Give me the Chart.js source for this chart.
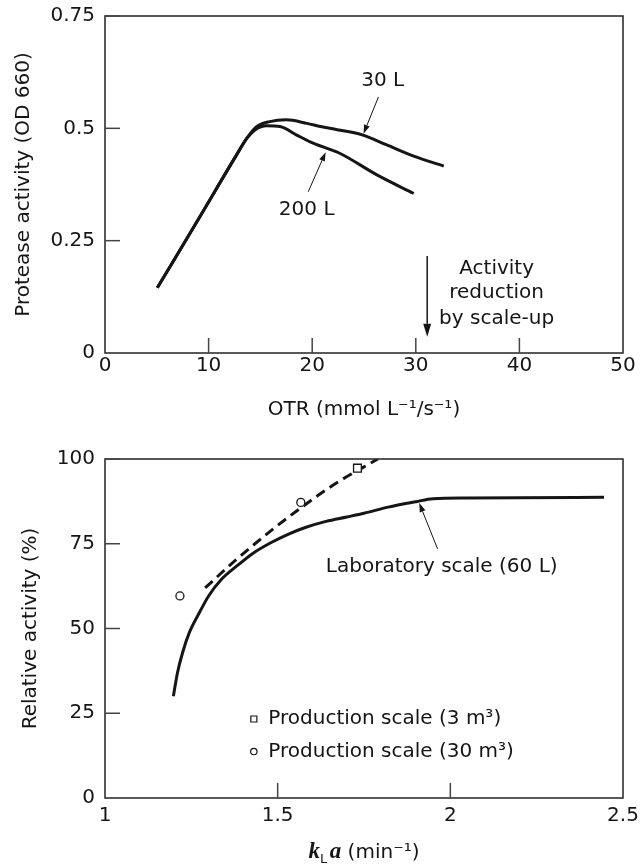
<!DOCTYPE html>
<html>
<head>
<meta charset="utf-8">
<script src="https://cdn.jsdelivr.net/npm/chart.js@4.4.0/dist/chart.umd.min.js"></script>
<style>
html,body{margin:0;padding:0;background:#fff;}
.wrap{position:relative;width:640px;height:432px;}
canvas{display:block;}
</style>
</head>
<body>
<div class="wrap"><canvas id="c1"></canvas></div>
<div class="wrap"><canvas id="c2"></canvas></div>
<script>
// ---------- Top panel data: protease activity vs OTR ----------
const otr30L = [5.05, 9.2, 12.6, 13.7, 14.6, 15.9, 17.5, 19.5, 20.8, 22.4, 24.9, 27.2, 29.8, 32.7];
const act30L = [0.145, 0.305, 0.437, 0.478, 0.503, 0.515, 0.519, 0.511, 0.504, 0.497, 0.485, 0.463, 0.438, 0.416];
const otr200L = [5.05, 9.2, 12.6, 13.7, 14.5, 15.6, 16.9, 18.5, 19.8, 21.7, 22.7, 26.2, 29.8];
const act200L = [0.145, 0.305, 0.437, 0.478, 0.497, 0.506, 0.504, 0.485, 0.470, 0.453, 0.444, 0.397, 0.355];
const otrTicks = [0, 10, 20, 30, 40, 50];
const otrTickLabels = ['0', '10', '20', '30', '40', '50'];
const odTicks = [0, 0.25, 0.5, 0.75];
const odTickLabels = ['0', '0.25', '0.5', '0.75'];

// ---------- Bottom panel data: relative activity vs kLa ----------
const klaLab = [1.198, 1.21, 1.225, 1.245, 1.275, 1.30, 1.34, 1.38, 1.43, 1.48, 1.53, 1.58, 1.64, 1.70, 1.75, 1.82, 1.90, 1.95, 2.05, 2.20, 2.445];
const relLab = [30, 37, 43, 49, 55, 59.6, 64.8, 68.3, 72.3, 75.3, 77.8, 79.8, 81.6, 82.9, 84.0, 85.8, 87.4, 88.3, 88.5, 88.6, 88.7];
const klaProd = [1.29, 1.38, 1.48, 1.57, 1.67, 1.79];
const relProd = [62, 70.3, 78.8, 85.8, 92.9, 100];
const kla3m3 = [1.731];
const rel3m3 = [97.3];
const kla30m3 = [1.217, 1.567];
const rel30m3 = [59.6, 87.2];
const klaTicks = [1, 1.5, 2, 2.5];
const klaTickLabels = ['1', '1.5', '2', '2.5'];
const relTicks = [0, 25, 50, 75, 100];
const relTickLabels = ['0', '25', '50', '75', '100'];

// ---------- styling ----------
const INK = '#151515';
const FONT = '"DejaVu Sans", "Liberation Sans", sans-serif';
const FS = 20;

function pts(xs, ys) { return xs.map((v, i) => ({x: v, y: ys[i]})); }
function tickCb(vals, labels) {
  return function (v) { const i = vals.findIndex(t => Math.abs(t - v) < 1e-9); return i >= 0 ? labels[i] : ''; };
}
function setTicks(vals) { return function (s) { s.ticks = vals.map(v => ({value: v})); }; }
function fixW(w) { return function (s) { s.width = w; s.paddingTop = 0; s.paddingBottom = 0; }; }
function fixH(h) { return function (s) { s.height = h; s.paddingLeft = 0; s.paddingRight = 0; }; }

function arrow(ctx, x1, y1, x2, y2, lw, hl, hw) {
  ctx.save();
  ctx.strokeStyle = INK; ctx.fillStyle = INK; ctx.lineWidth = lw;
  const a = Math.atan2(y2 - y1, x2 - x1);
  const bx = x2 - hl * Math.cos(a), by = y2 - hl * Math.sin(a);
  ctx.beginPath(); ctx.moveTo(x1, y1); ctx.lineTo(bx, by); ctx.stroke();
  ctx.beginPath();
  ctx.moveTo(x2, y2);
  ctx.lineTo(bx + hw * Math.sin(a), by - hw * Math.cos(a));
  ctx.lineTo(bx - hw * Math.sin(a), by + hw * Math.cos(a));
  ctx.closePath(); ctx.fill();
  ctx.restore();
}

function frameAndTicks(chart) {
  const {ctx, chartArea: a, scales: {x, y}} = chart;
  ctx.save();
  ctx.strokeStyle = '#222'; ctx.lineWidth = 1.5;
  ctx.strokeRect(a.left, a.top, a.right - a.left, a.bottom - a.top);
  ctx.strokeStyle = '#444'; ctx.lineWidth = 1.5;
  x.ticks.forEach(t => {
    const p = x.getPixelForValue(t.value);
    if (p > a.left + 2 && p < a.right - 2) { ctx.beginPath(); ctx.moveTo(p, a.bottom); ctx.lineTo(p, a.bottom - 15); ctx.stroke(); }
  });
  y.ticks.forEach(t => {
    const p = y.getPixelForValue(t.value);
    if (p < a.bottom - 2) { ctx.beginPath(); ctx.moveTo(a.left, p); ctx.lineTo(a.left + 15, p); ctx.stroke(); }
  });
  ctx.restore();
}

function text(ctx, s, x, y, align, font) {
  ctx.save();
  ctx.fillStyle = INK; ctx.font = font || (FS + 'px ' + FONT);
  ctx.textAlign = align || 'center'; ctx.textBaseline = 'middle';
  ctx.fillText(s, x, y);
  ctx.restore();
}

// ---------- annotations (in data units) ----------
const topNotes = [
  {t: '30 L', x: 26.8, y: 0.605},
  {t: '200 L', x: 19.47, y: 0.318},
  {t: 'Activity', x: 37.8, y: 0.1885},
  {t: 'reduction', x: 37.8, y: 0.133},
  {t: 'by scale-up', x: 37.8, y: 0.0757}
];
const topArrows = [
  {x1: 26.4, y1: 0.570, x2: 24.95, y2: 0.488, lw: 1, hl: 9, hw: 3},
  {x1: 19.62, y1: 0.359, x2: 21.3, y2: 0.447, lw: 1, hl: 9, hw: 3},
  {x1: 31.1, y1: 0.216, x2: 31.1, y2: 0.036, lw: 1.5, hl: 13, hw: 4}
];

const topPlugin = {
  id: 'topDeco',
  afterDatasetsDraw(chart) {
    const {ctx, scales: {x, y}} = chart;
    frameAndTicks(chart);
    topNotes.forEach(n => text(ctx, n.t, x.getPixelForValue(n.x), y.getPixelForValue(n.y)));
    topArrows.forEach(r => arrow(ctx, x.getPixelForValue(r.x1), y.getPixelForValue(r.y1), x.getPixelForValue(r.x2), y.getPixelForValue(r.y2), r.lw, r.hl, r.hw));
  }
};

const botPlugin = {
  id: 'botDeco',
  afterDatasetsDraw(chart) {
    const {ctx, chartArea: a, scales: {x, y}} = chart;
    frameAndTicks(chart);
    text(ctx, 'Laboratory scale (60 L)', x.getPixelForValue(1.975), y.getPixelForValue(68.2));
    arrow(ctx, x.getPixelForValue(1.963), y.getPixelForValue(73.5), x.getPixelForValue(1.91), y.getPixelForValue(87.0), 1, 9, 3);
    // legend
    const lx = x.getPixelForValue(1.431);
    const tx = x.getPixelForValue(1.473);
    const ly1 = y.getPixelForValue(23.3), ly2 = y.getPixelForValue(13.7);
    ctx.save();
    ctx.strokeStyle = INK; ctx.lineWidth = 1.2; ctx.fillStyle = '#fff';
    ctx.beginPath(); ctx.rect(lx - 3, ly1 - 3, 6, 6); ctx.fill(); ctx.stroke();
    ctx.beginPath(); ctx.arc(lx, ly2, 3.2, 0, Math.PI * 2); ctx.fill(); ctx.stroke();
    ctx.restore();
    text(ctx, 'Production scale (3 m³)', tx, ly1, 'left');
    text(ctx, 'Production scale (30 m³)', tx, ly2, 'left');
    // x-axis title: kLa (min^-1)
    const parts = [
      {t: 'k', f: 'italic bold 23px "Liberation Serif", "DejaVu Serif", serif', dy: 0},
      {t: 'L', f: '13px ' + FONT, dy: 5},
      {t: ' ', f: '8px ' + FONT, dy: 0},
      {t: 'a', f: 'italic bold 23px "Liberation Serif", "DejaVu Serif", serif', dy: 0},
      {t: ' (min⁻¹)', f: FS + 'px ' + FONT, dy: 0}
    ];
    ctx.save();
    ctx.fillStyle = INK; ctx.textBaseline = 'alphabetic'; ctx.textAlign = 'left';
    let w = 0;
    parts.forEach(p => { ctx.font = p.f; p.w = ctx.measureText(p.t).width; w += p.w; });
    let cx = (a.left + a.right) / 2 - w / 2;
    const base = chart.height - 6;
    parts.forEach(p => { ctx.font = p.f; ctx.fillText(p.t, cx, base + p.dy); cx += p.w; });
    ctx.restore();
  }
};

const lineStyle = {borderColor: INK, borderWidth: 3, pointRadius: 0, fill: false, cubicInterpolationMode: 'monotone'};
const tickFont = {family: FONT, size: FS};

// ---------- top chart ----------
new Chart(document.getElementById('c1'), {
  type: 'line',
  data: {
    datasets: [
      Object.assign({label: '30 L', data: pts(otr30L, act30L)}, lineStyle),
      Object.assign({label: '200 L', data: pts(otr200L, act200L)}, lineStyle)
    ]
  },
  options: {
    responsive: true, maintainAspectRatio: false, animation: false,
    layout: {autoPadding: false, padding: {top: 16, right: 17, left: 0, bottom: 0}},
    plugins: {legend: {display: false}, tooltip: {enabled: false}},
    scales: {
      x: {
        type: 'linear', min: 0, max: 50,
        afterBuildTicks: setTicks(otrTicks),
        afterFit: fixH(79),
        grid: {display: false, drawTicks: false}, border: {display: false},
        ticks: {padding: 1, color: INK, font: tickFont, maxRotation: 0, autoSkip: false, callback: tickCb(otrTicks, otrTickLabels)},
        title: {display: true, text: 'OTR (mmol L⁻¹/s⁻¹)', color: INK, font: tickFont, padding: {top: 0, bottom: 10}}
      },
      y: {
        type: 'linear', min: 0, max: 0.75,
        afterBuildTicks: setTicks(odTicks),
        afterFit: fixW(105),
        grid: {display: false, drawTicks: false}, border: {display: false},
        ticks: {padding: 10, color: INK, font: tickFont, autoSkip: false, callback: tickCb(odTicks, odTickLabels)},
        title: {display: true, text: 'Protease activity (OD 660)', color: INK, font: tickFont, padding: {top: 12, bottom: 0}}
      }
    }
  },
  plugins: [topPlugin]
});

// ---------- bottom chart ----------
new Chart(document.getElementById('c2'), {
  type: 'line',
  data: {
    datasets: [
      {label: 'Production scale (3 m³)', data: pts(kla3m3, rel3m3), showLine: false, pointStyle: 'rect', pointRadius: 5.5, pointBorderWidth: 1.3, pointBorderColor: INK, pointBackgroundColor: '#fff'},
      {label: 'Production scale (30 m³)', data: pts(kla30m3, rel30m3), showLine: false, pointStyle: 'circle', pointRadius: 4, pointBorderWidth: 1.3, pointBorderColor: INK, pointBackgroundColor: '#fff'},
      Object.assign({label: 'Production trend', data: pts(klaProd, relProd), borderDash: [10, 6]}, lineStyle),
      Object.assign({label: 'Laboratory scale (60 L)', data: pts(klaLab, relLab)}, lineStyle)
    ]
  },
  options: {
    responsive: true, maintainAspectRatio: false, animation: false,
    layout: {autoPadding: false, padding: {top: 27, right: 17, left: 0, bottom: 0}},
    plugins: {legend: {display: false}, tooltip: {enabled: false}},
    scales: {
      x: {
        type: 'linear', min: 1, max: 2.5,
        afterBuildTicks: setTicks(klaTicks),
        afterFit: fixH(66),
        grid: {display: false, drawTicks: false}, border: {display: false},
        ticks: {padding: 6, color: INK, font: tickFont, maxRotation: 0, autoSkip: false, callback: tickCb(klaTicks, klaTickLabels)},
        title: {display: false}
      },
      y: {
        type: 'linear', min: 0, max: 100,
        afterBuildTicks: setTicks(relTicks),
        afterFit: fixW(105),
        grid: {display: false, drawTicks: false}, border: {display: false},
        ticks: {padding: 10, color: INK, font: tickFont, autoSkip: false, callback: tickCb(relTicks, relTickLabels)},
        title: {display: true, text: 'Relative activity (%)', color: INK, font: tickFont, padding: {top: 19, bottom: 0}}
      }
    }
  },
  plugins: [botPlugin]
});
</script>
</body>
</html>
